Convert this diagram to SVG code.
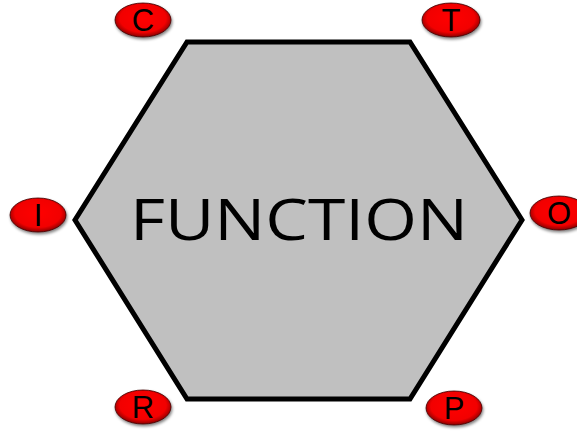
<svg xmlns="http://www.w3.org/2000/svg" width="577" height="432" viewBox="0 0 577 432">
<defs>
<radialGradient id="rg" cx="0.5" cy="0.45" r="0.55">
<stop offset="0" stop-color="#ff0000"/>
<stop offset="0.75" stop-color="#f20000"/>
<stop offset="1" stop-color="#8a0000"/>
</radialGradient>
<filter id="sh" x="-20%" y="-20%" width="150%" height="150%">
<feGaussianBlur in="SourceAlpha" stdDeviation="1.5"/>
<feOffset dx="1" dy="2" result="b"/>
<feComponentTransfer><feFuncA type="linear" slope="0.5"/></feComponentTransfer>
<feMerge><feMergeNode/><feMergeNode in="SourceGraphic"/></feMerge>
</filter>
</defs>
<style>
.badge ellipse{fill:url(#rg);stroke:#400000;stroke-width:0.8;filter:url(#sh)}
.badge text{font-family:"Liberation Sans",Arial,sans-serif;font-size:31px;fill:#000;text-anchor:middle}
.main{font-family:"Open Sans","Liberation Sans",sans-serif;font-size:56px;fill:#000;text-anchor:middle}
</style>
<g id="function">
<polygon points="187,42 410,42 522,220 410,399 187,399 75,220" fill="#c0c0c0" stroke="#000" stroke-width="5" stroke-linejoin="miter"/>
<text class="main" x="299" y="240" textLength="338" lengthAdjust="spacingAndGlyphs">FUNCTION</text>
</g>
<g id="connectors"></g>
<g id="C" class="badge"><ellipse cx="143" cy="20" rx="28" ry="17"/><text x="143" y="31">C</text></g>
<g id="T" class="badge"><ellipse cx="451" cy="20" rx="29" ry="17"/><text x="451" y="31">T</text></g>
<g id="I" class="badge"><ellipse cx="38" cy="215" rx="28" ry="17"/><text x="38" y="226">I</text></g>
<g id="O" class="badge"><ellipse cx="559" cy="213" rx="29" ry="17"/><text x="559" y="224">O</text></g>
<g id="R" class="badge"><ellipse cx="143" cy="407" rx="28" ry="17"/><text x="143" y="418">R</text></g>
<g id="P" class="badge"><ellipse cx="454" cy="408" rx="28" ry="17"/><text x="454" y="419">P</text></g>
</svg>
